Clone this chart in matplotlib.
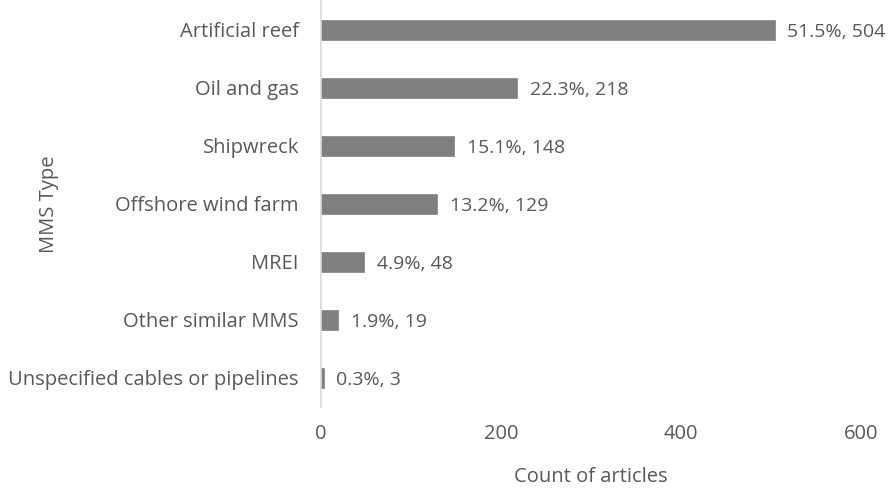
import matplotlib

matplotlib.use("Agg")
import matplotlib.pyplot as plt

categories = [
    "Artificial reef",
    "Oil and gas",
    "Shipwreck",
    "Offshore wind farm",
    "MREI",
    "Other similar MMS",
    "Unspecified cables or pipelines",
]
counts = [504, 218, 148, 129, 48, 19, 3]
percents = [51.5, 22.3, 15.1, 13.2, 4.9, 1.9, 0.3]
xticks = [0, 200, 400, 600]

text_color = "#595959"
fs = 14.5
plt.rcParams["font.family"] = ["Open Sans", "DejaVu Sans"]

fig = plt.figure(figsize=(8.96, 4.88), dpi=100)
ax = fig.add_axes([0.3583, 0.166, 0.6027, 0.832])

ypos = list(range(len(categories)))
ax.barh(ypos, counts, height=0.345, color="#7f7f7f", edgecolor="#8c8c8c", linewidth=0.6)
for y, c, p in zip(ypos, counts, percents):
    ax.text(c + 14, y + 0.04, f"{p}%, {c}", va="center", ha="left", fontsize=14, color=text_color)

ax.set_ylim(len(categories) - 0.5, -0.5)
ax.set_xlim(0, 600)
ax.set_yticks(ypos)
ax.set_yticklabels(categories, fontsize=fs, color=text_color)
ax.set_xticks(xticks)
ax.set_xticklabels([str(t) for t in xticks], fontsize=fs, color=text_color)
ax.tick_params(axis="both", length=0)
ax.tick_params(axis="y", pad=16)
ax.tick_params(axis="x", pad=12)

for side in ["top", "right", "bottom"]:
    ax.spines[side].set_visible(False)
ax.spines["left"].set_color("#d9d9d9")
ax.spines["left"].set_linewidth(1.2)

ax.set_xlabel("Count of articles", fontsize=fs, color=text_color, labelpad=17)
ax.set_ylabel("MMS Type", fontsize=fs, color=text_color)
ax.yaxis.set_label_coords(-0.485, 0.5)

fig.savefig("out.png", dpi=100)
